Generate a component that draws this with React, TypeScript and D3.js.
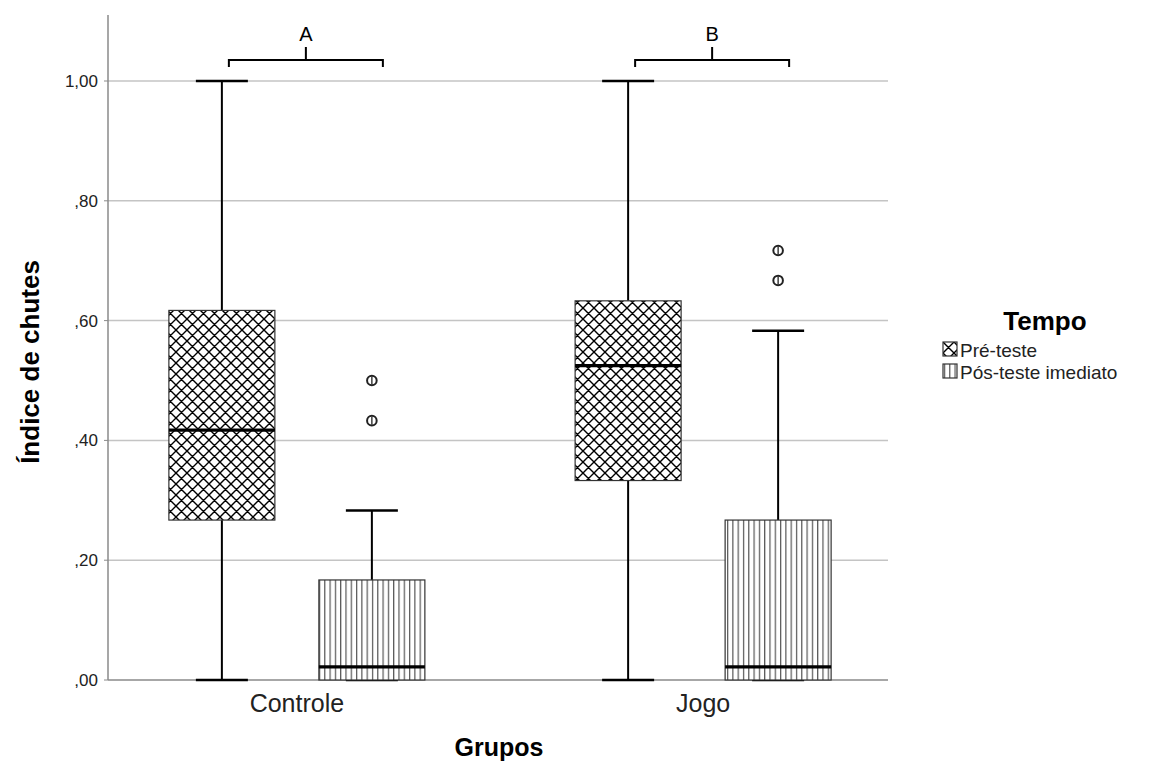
import React from "react";
import * as d3 from "d3";

// Groups and time points
const groups = ["Controle", "Jogo"];
const tempos = ["Pré-teste", "Pós-teste imediato"];

// Five-number summaries per group/time: [min, q1, median, q3, max]
const controlePre = [0, 0.267, 0.417, 0.617, 1.0];
const controlePos = [0, 0, 0.022, 0.167, 0.283];
const jogoPre = [0, 0.333, 0.525, 0.633, 1.0];
const jogoPos = [0, 0, 0.022, 0.267, 0.583];

// Outliers
const controlePosOutliers = [0.5, 0.433];
const jogoPosOutliers = [0.717, 0.667];

// Y ticks
const yTicks = [0, 0.2, 0.4, 0.6, 0.8, 1.0];
const yTickLabels = [",00", ",20", ",40", ",60", ",80", "1,00"];

// Significance letters above each group
const groupLetters = ["A", "B"];

const boxes = [
  { group: "Controle", tempo: 0, stats: controlePre, outliers: [] as number[] },
  { group: "Controle", tempo: 1, stats: controlePos, outliers: controlePosOutliers },
  { group: "Jogo", tempo: 0, stats: jogoPre, outliers: [] as number[] },
  { group: "Jogo", tempo: 1, stats: jogoPos, outliers: jogoPosOutliers },
];

const W = 1150;
const H = 765;
const left = 108;
const right = 888;
const top = 15;
const bottom = 680;

const FONT = "'Liberation Sans', Arial, sans-serif";

export default function App() {
  const y = d3.scaleLinear().domain([0, 1]).range([bottom, 81]);
  const x = d3.scalePoint<string>().domain(groups).range([left + 2, right + 2]).padding(0.46);
  const offset = d3.scalePoint<number>().domain([0, 1]).range([-75, 75]);
  const boxW = 106;
  const capW = 52;

  return (
    <svg width={W} height={H} style={{ position: "absolute", left: 0, top: 0, background: "#fff" }}>
      <defs>
        <pattern id="cross" patternUnits="userSpaceOnUse" width={11} height={11}>
          <rect width={11} height={11} fill="#fff" />
          <path d="M0,0 L11,11 M11,0 L0,11 M-1,10 L1,12 M10,-1 L12,1 M-1,1 L1,-1 M10,12 L12,10" stroke="#000" strokeWidth={1.4} />
        </pattern>
        <pattern id="vert" patternUnits="userSpaceOnUse" width={5.3} height={10}>
          <rect width={5.3} height={10} fill="#fff" />
          <line x1={1.5} x2={1.5} y1={0} y2={10} stroke="#555" strokeWidth={1.2} />
        </pattern>
      </defs>

      {/* gridlines */}
      {yTicks.slice(1).map((t) => (
        <line key={t} x1={left} x2={right} y1={y(t)} y2={y(t)} stroke="#c4c4c4" strokeWidth={1.5} />
      ))}

      {/* axes */}
      <line x1={left} x2={left} y1={top} y2={bottom} stroke="#8a8a8a" strokeWidth={1.5} />
      <line x1={left} x2={right} y1={bottom} y2={bottom} stroke="#8a8a8a" strokeWidth={1.5} />
      {yTicks.map((t, i) => (
        <g key={t}>
          <line x1={left - 4} x2={left} y1={y(t)} y2={y(t)} stroke="#8a8a8a" strokeWidth={1} />
          <text x={98} y={y(t)} dy="0.35em" textAnchor="end" fontFamily={FONT} fontSize={17} fill="#222">
            {yTickLabels[i]}
          </text>
        </g>
      ))}

      {/* boxes */}
      {boxes.map((b, i) => {
        const cx = (x(b.group) as number) + (offset(b.tempo) as number);
        const [mn, q1, med, q3, mx] = b.stats;
        return (
          <g key={i}>
            <line x1={cx} x2={cx} y1={y(mx)} y2={y(q3)} stroke="#000" strokeWidth={2} />
            <line x1={cx} x2={cx} y1={y(q1)} y2={y(mn)} stroke="#000" strokeWidth={2} />
            <line x1={cx - capW / 2} x2={cx + capW / 2} y1={y(mx)} y2={y(mx)} stroke="#000" strokeWidth={2.5} />
            <line x1={cx - capW / 2} x2={cx + capW / 2} y1={y(mn)} y2={y(mn)} stroke="#000" strokeWidth={2.5} />
            <rect
              x={cx - boxW / 2}
              y={y(q3)}
              width={boxW}
              height={y(q1) - y(q3)}
              fill={b.tempo === 0 ? "url(#cross)" : "url(#vert)"}
              stroke="#333"
              strokeWidth={1.2}
            />
            <line x1={cx - boxW / 2} x2={cx + boxW / 2} y1={y(med)} y2={y(med)} stroke="#000" strokeWidth={3.2} />
            {b.outliers.map((o, j) => (
              <g key={j}>
                <circle cx={cx} cy={y(o)} r={4.8} fill="#fff" stroke="#222" strokeWidth={2} />
                <line x1={cx} x2={cx} y1={y(o) - 4} y2={y(o) + 4} stroke="#222" strokeWidth={1.3} />
              </g>
            ))}
          </g>
        );
      })}

      {/* significance brackets */}
      {groups.map((g, i) => {
        const x0 = (x(g) as number) + (offset(0) as number) + 7;
        const x1 = (x(g) as number) + (offset(1) as number) + 11;
        const mid = (x0 + x1) / 2;
        return (
          <g key={g}>
            <path
              d={`M${x0},67 L${x0},60 L${x1},60 L${x1},67 M${mid},60 L${mid},47`}
              fill="none"
              stroke="#000"
              strokeWidth={2}
            />
            <text x={mid} y={41} textAnchor="middle" fontFamily={FONT} fontSize={20} fill="#000">
              {groupLetters[i]}
            </text>
          </g>
        );
      })}

      {/* x labels */}
      {groups.map((g) => (
        <text key={g} x={x(g) as number} y={712} textAnchor="middle" fontFamily={FONT} fontSize={25} fill="#222">
          {g}
        </text>
      ))}

      {/* axis titles */}
      <text x={499} y={756} textAnchor="middle" fontFamily={FONT} fontSize={25} fontWeight="bold" fill="#000">
        Grupos
      </text>
      <text
        transform={`translate(39,362) rotate(-90)`}
        textAnchor="middle"
        fontFamily={FONT}
        fontSize={26}
        fontWeight="bold"
        fill="#000"
      >
        Índice de chutes
      </text>

      {/* legend */}
      <text x={1045} y={330} textAnchor="middle" fontFamily={FONT} fontSize={26} fontWeight="bold" fill="#000">
        Tempo
      </text>
      {tempos.map((t, i) => (
        <g key={t} transform={`translate(943,${342 + i * 22})`}>
          <rect x={0} y={0} width={14} height={14} fill={i === 0 ? "url(#cross)" : "url(#vert)"} stroke="#333" strokeWidth={1.2} />
          <text x={17} y={14.5} fontFamily={FONT} fontSize={19} fill="#222">
            {t}
          </text>
        </g>
      ))}
    </svg>
  );
}
